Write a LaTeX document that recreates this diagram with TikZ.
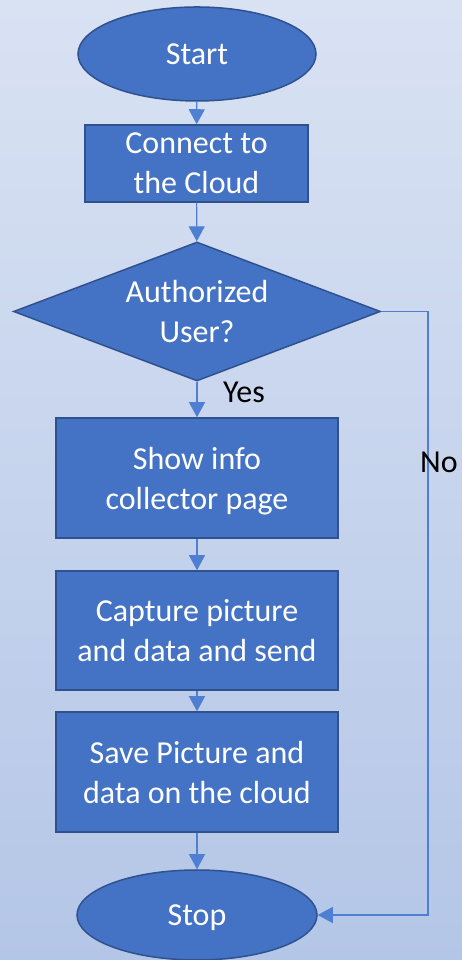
\documentclass[tikz,border=0pt]{standalone}
\usepackage{fontspec}
\setmainfont{Carlito}
\usetikzlibrary{shapes.geometric, arrows.meta}

\definecolor{bgtop}{HTML}{D9E2F3}
\definecolor{bgbot}{HTML}{B4C6E7}
\definecolor{boxfill}{HTML}{4472C4}
\definecolor{boxline}{HTML}{2F528F}
\definecolor{flowline}{HTML}{4E7FD2}

\tikzset{
    shapebox/.style={fill=boxfill, draw=boxline, line width=1.5pt, text=white,
        inner sep=0pt, align=center, text depth=0pt,
        font=\fontsize{32}{40}\selectfont},
    termbox/.style={shapebox, ellipse},
    stepbox/.style={shapebox, rectangle},
    askbox/.style={shapebox, diamond, aspect=2.64},
    flow/.style={draw=flowline, line width=1.2pt, -{Triangle[width=16pt,length=15pt]}},
    tag/.style={anchor=base, inner sep=0pt, font=\fontsize{32}{40}\selectfont}
}

\begin{document}
\begin{tikzpicture}[x=1pt, y=1pt]
    \useasboundingbox (0, 0) rectangle (462, 960);
    \shade[top color=bgtop, bottom color=bgbot] (0, 0) rectangle (462, 960); % background

    \node[termbox, minimum width=238pt, minimum height=94pt] (start) at (197, 906) {Start};
    \node[stepbox, minimum width=223pt, minimum height=77pt] (conn) at (196.5, 796.5) {Connect to\\the Cloud};
    \node[askbox, minimum width=367pt, minimum height=139pt] (auth) at (197, 648.5) {Authorized\\User?};
    \node[stepbox, minimum width=282pt, minimum height=120pt] (info) at (197, 482) {Show info\\collector page};
    \node[stepbox, minimum width=282pt, minimum height=119pt] (capt) at (197, 329.5) {Capture picture\\and data and send};
    \node[stepbox, minimum width=282pt, minimum height=120pt] (save) at (197, 188) {Save Picture and\\data on the cloud};
    \node[termbox, minimum width=240pt, minimum height=90pt] (stop) at (197, 45) {Stop};

    \coordinate (noturn) at (428, 648.5);

    % main line
    \draw[flow] (start) -- (conn);
    \draw[flow] (conn) -- (auth);
    \draw[flow] (auth) -- (info);
    \draw[flow] (info) -- (capt);
    \draw[flow] (capt) -- (save);
    \draw[flow] (save) -- (stop);

    % not authorized
    \draw[flow] (auth.east) -- (noturn) |- (stop.east);

    \node[tag] (yes) at (244, 557) {Yes};
    \node[tag] (no) at (439, 487) {No};
\end{tikzpicture}
\end{document}
